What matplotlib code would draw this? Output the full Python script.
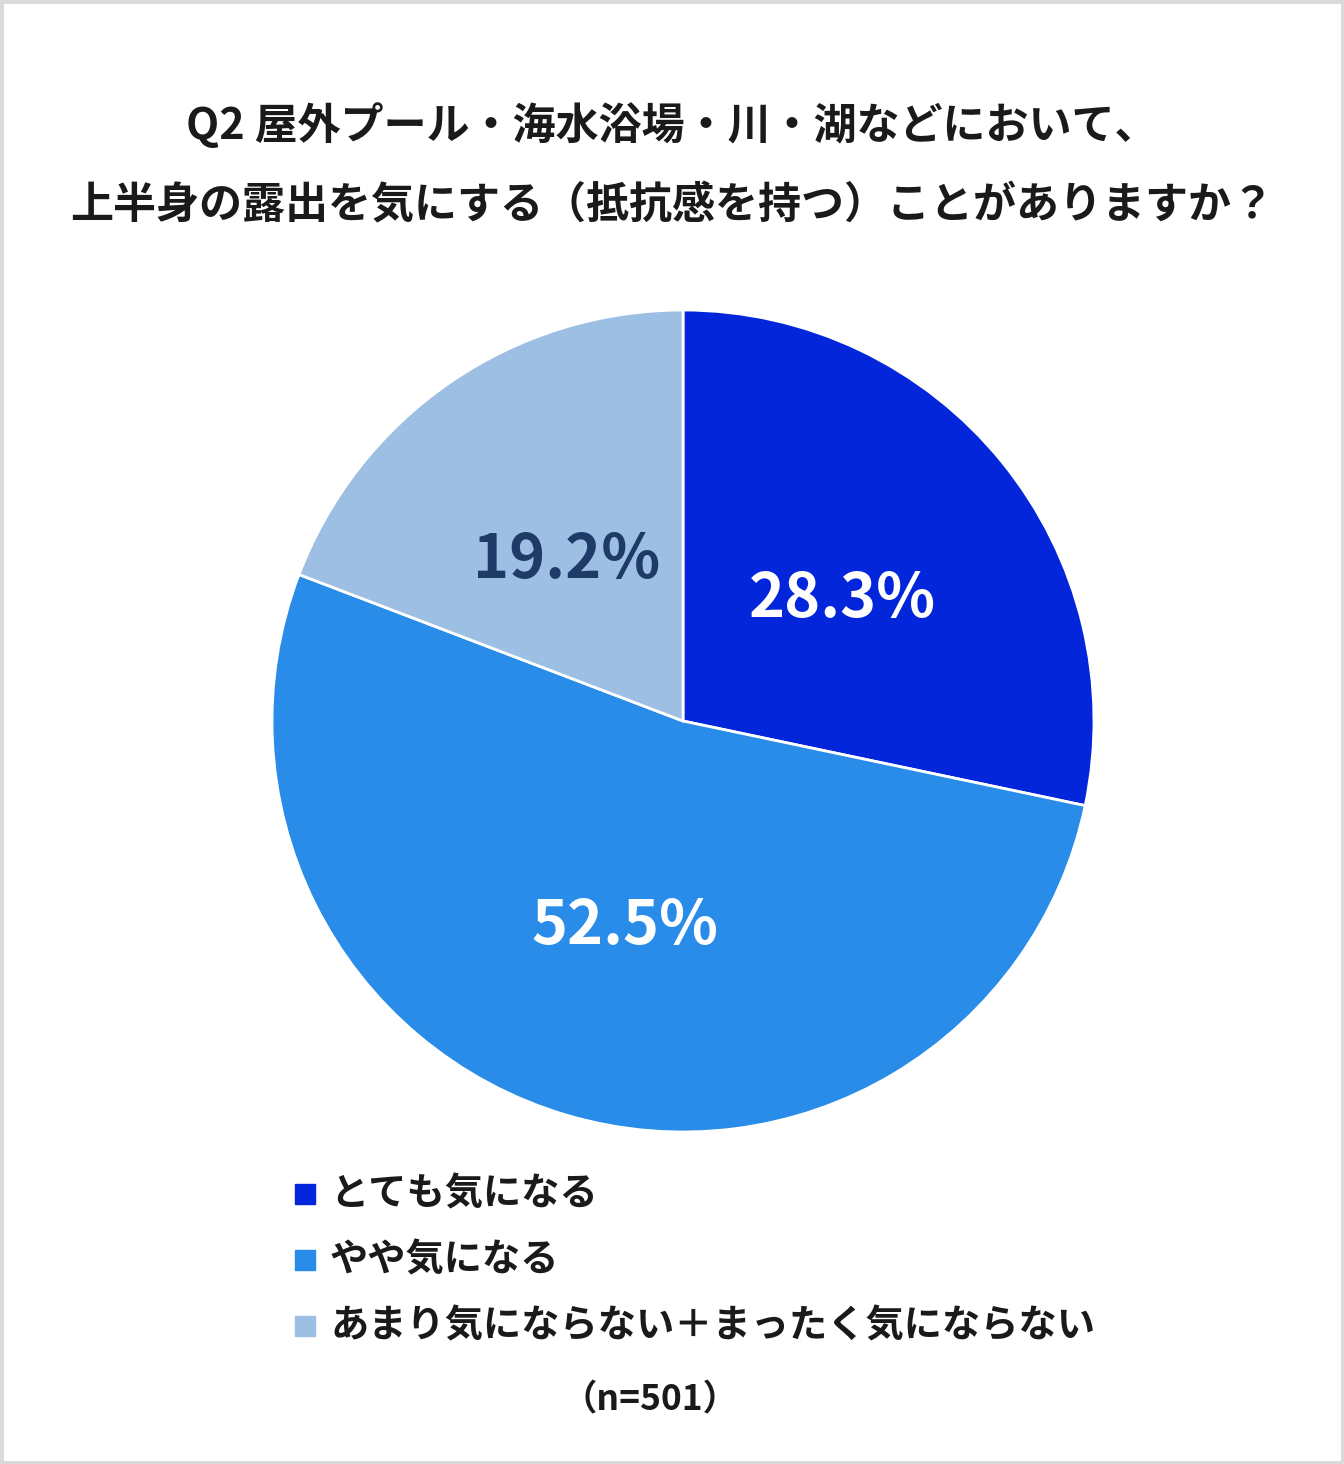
import matplotlib.pyplot as plt
from matplotlib.patches import Rectangle
from matplotlib.transforms import offset_copy

plt.rcParams['font.family'] = ['Noto Sans CJK JP', 'DejaVu Sans']

title_lines = ['Q2 屋外プール・海水浴場・川・湖などにおいて、',
               '上半身の露出を気にする（抵抗感を持つ）ことがありますか？']
categories = ['とても気になる', 'やや気になる', 'あまり気にならない＋まったく気にならない']
values = [28.3, 52.5, 19.2]
colors = ['#0326DB', '#288CE8', '#9DBFE4']
label_colors = ['white', 'white', '#1E3A66']
note = '（n=501）'

W, H = 1344, 1464
fig = plt.figure(figsize=(W / 100, H / 100), dpi=100)
fig.patches.append(Rectangle((0, 0), 1, 1, transform=fig.transFigure,
                             fill=False, edgecolor='#DADADA', linewidth=5))

for i, line in enumerate(title_lines):
    fig.text(0.5, 1 - (125 + 80 * i) / H, line, ha='center', va='center',
             fontsize=31, fontweight='bold', color='#1A1A1A')

cx, cy, r = 683, 721, 411
ax = fig.add_axes([(cx - r) / W, (H - cy - r) / H, 2 * r / W, 2 * r / H])
wedges, texts, autotexts = ax.pie(
    values, colors=colors, startangle=90, counterclock=False,
    autopct='%.1f%%', pctdistance=0.5,
    wedgeprops=dict(edgecolor='white', linewidth=2))
# nudge labels a little lower, like the original
shift = offset_copy(ax.transData, fig=fig, x=0, y=-8, units='dots')
for t, c in zip(autotexts, label_colors):
    t.set_transform(shift)
    t.set_color(c)
    t.set_fontsize(44)
    t.set_fontweight('bold')
ax.set_xlim(-1, 1)
ax.set_ylim(-1, 1)
ax.axis('off')

for i, (cat, col) in enumerate(zip(categories, colors)):
    y = 1 - (1194 + 66 * i) / H
    fig.patches.append(Rectangle((295 / W, y - 10 / H), 20 / W, 20 / H,
                                 transform=fig.transFigure, color=col))
    fig.text(330 / W, y, cat, ha='left', va='center', fontsize=27.5,
             fontweight='bold', color='#1A1A1A')

fig.text(650 / W, 1 - 1400 / H, note, ha='center', va='center', fontsize=25.5,
         fontweight='bold', color='#1A1A1A')

fig.savefig('out.png', dpi=100, facecolor='white')
